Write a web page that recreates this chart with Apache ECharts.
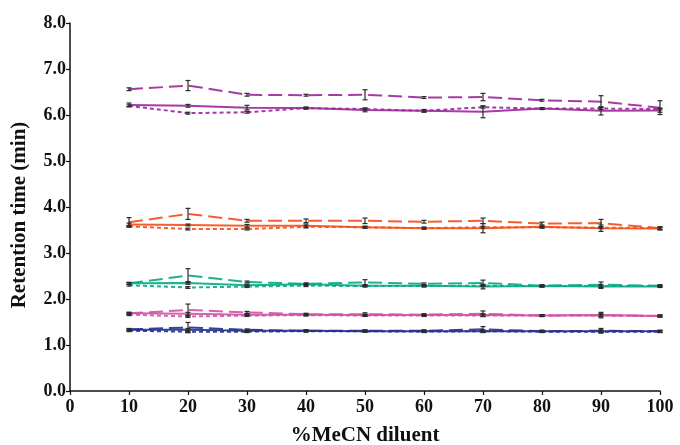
<!DOCTYPE html>
<html>
<head>
<meta charset="utf-8">
<script src="https://cdn.jsdelivr.net/npm/echarts@6/dist/echarts.min.js"></script>
<style>
  html, body { margin: 0; padding: 0; background: #fff; }
  #chart { width: 680px; height: 445px; }
</style>
</head>
<body>
<div id="chart"></div>
<script>
// %MeCN diluent
const xValues = [10, 20, 30, 40, 50, 60, 70, 80, 90, 100];

// retention times (min), three runs per analyte: dashed / solid / dotted
const purpleDash  = [6.56, 6.64, 6.44, 6.43, 6.44, 6.38, 6.39, 6.32, 6.29, 6.16];
const purpleSolid = [6.22, 6.20, 6.16, 6.15, 6.11, 6.09, 6.07, 6.14, 6.09, 6.10];
const purpleDot   = [6.20, 6.04, 6.06, 6.15, 6.13, 6.09, 6.17, 6.14, 6.14, 6.13];
const orangeDash  = [3.67, 3.85, 3.70, 3.70, 3.70, 3.68, 3.70, 3.64, 3.65, 3.54];
const orangeSolid = [3.62, 3.61, 3.59, 3.59, 3.56, 3.54, 3.54, 3.57, 3.54, 3.53];
const orangeDot   = [3.58, 3.52, 3.52, 3.57, 3.56, 3.54, 3.56, 3.56, 3.55, 3.54];
const greenDash   = [2.34, 2.51, 2.37, 2.33, 2.36, 2.33, 2.35, 2.29, 2.31, 2.29];
const greenSolid  = [2.34, 2.35, 2.30, 2.32, 2.29, 2.29, 2.27, 2.28, 2.27, 2.27];
const greenDot    = [2.30, 2.25, 2.27, 2.29, 2.28, 2.28, 2.29, 2.28, 2.28, 2.28];
const pinkDash    = [1.69, 1.76, 1.71, 1.67, 1.67, 1.66, 1.68, 1.64, 1.65, 1.63];
const pinkSolid   = [1.69, 1.68, 1.66, 1.66, 1.65, 1.65, 1.65, 1.64, 1.65, 1.63];
const pinkDot     = [1.66, 1.62, 1.64, 1.65, 1.64, 1.64, 1.64, 1.64, 1.64, 1.63];
const blueDash    = [1.34, 1.38, 1.33, 1.31, 1.31, 1.31, 1.34, 1.30, 1.31, 1.30];
const blueSolid   = [1.33, 1.33, 1.31, 1.31, 1.30, 1.30, 1.30, 1.30, 1.30, 1.30];
const blueDot     = [1.31, 1.29, 1.29, 1.30, 1.30, 1.29, 1.30, 1.29, 1.29, 1.29];

// standard deviations (error bars)
const purpleDashErr  = [0.03, 0.11, 0.03, 0.02, 0.11, 0.02, 0.08, 0.02, 0.13, 0.15];
const purpleSolidErr = [0.04, 0.03, 0.05, 0.02, 0.04, 0.03, 0.13, 0.02, 0.09, 0.04];
const purpleDotErr   = [0.02, 0.02, 0.02, 0.02, 0.02, 0.02, 0.02, 0.02, 0.02, 0.02];
const orangeDashErr  = [0.10, 0.12, 0.03, 0.04, 0.06, 0.03, 0.06, 0.03, 0.08, 0.03];
const orangeSolidErr = [0.03, 0.02, 0.03, 0.04, 0.02, 0.02, 0.10, 0.02, 0.07, 0.03];
const orangeDotErr   = [0.02, 0.02, 0.02, 0.02, 0.02, 0.02, 0.02, 0.02, 0.02, 0.02];
const greenDashErr   = [0.02, 0.15, 0.02, 0.02, 0.06, 0.02, 0.06, 0.02, 0.06, 0.02];
const greenSolidErr  = [0.02, 0.03, 0.02, 0.02, 0.02, 0.02, 0.05, 0.02, 0.04, 0.02];
const greenDotErr    = [0.02, 0.02, 0.02, 0.02, 0.02, 0.02, 0.02, 0.02, 0.02, 0.02];
const pinkDashErr    = [0.02, 0.13, 0.02, 0.02, 0.03, 0.02, 0.06, 0.02, 0.06, 0.02];
const pinkSolidErr   = [0.02, 0.03, 0.02, 0.02, 0.02, 0.02, 0.03, 0.02, 0.03, 0.02];
const pinkDotErr     = [0.02, 0.02, 0.02, 0.02, 0.02, 0.02, 0.02, 0.02, 0.02, 0.02];
const blueDashErr    = [0.02, 0.11, 0.02, 0.02, 0.02, 0.02, 0.06, 0.02, 0.05, 0.02];
const blueSolidErr   = [0.02, 0.03, 0.02, 0.02, 0.02, 0.02, 0.03, 0.02, 0.03, 0.02];
const blueDotErr     = [0.02, 0.02, 0.02, 0.02, 0.02, 0.02, 0.02, 0.02, 0.02, 0.02];

const colors = {
  purple: '#9E2A9C',
  orange: '#F4511E',
  green: '#0BAA84',
  pink: '#D055A6',
  blue: '#27338F',
};

const dashStyles = {
  dash: [14, 6],
  solid: 'solid',
  dot: [4, 3],
};

const runs = [
  ['purple', 'dash', purpleDash, purpleDashErr],
  ['purple', 'solid', purpleSolid, purpleSolidErr],
  ['purple', 'dot', purpleDot, purpleDotErr],
  ['orange', 'dash', orangeDash, orangeDashErr],
  ['orange', 'solid', orangeSolid, orangeSolidErr],
  ['orange', 'dot', orangeDot, orangeDotErr],
  ['green', 'dash', greenDash, greenDashErr],
  ['green', 'solid', greenSolid, greenSolidErr],
  ['green', 'dot', greenDot, greenDotErr],
  ['pink', 'dash', pinkDash, pinkDashErr],
  ['pink', 'solid', pinkSolid, pinkSolidErr],
  ['pink', 'dot', pinkDot, pinkDotErr],
  ['blue', 'dash', blueDash, blueDashErr],
  ['blue', 'solid', blueSolid, blueSolidErr],
  ['blue', 'dot', blueDot, blueDotErr],
];

const chart = echarts.init(document.getElementById('chart'));
const font = 'Liberation Serif';

const series = [];
const errData = [];
runs.forEach(([c, style, vals, errs]) => {
  series.push({
    name: c + '-' + style,
    type: 'line',
    showSymbol: false,
    silent: true,
    z: 2,
    lineStyle: { color: colors[c], width: 2, type: dashStyles[style], opacity: 0.92 },
    data: xValues.map((x, i) => [x, vals[i]]),
  });
  xValues.forEach((x, i) => {
    errData.push([x, vals[i] - errs[i], vals[i] + errs[i]]);
  });
});

series.push({
  type: 'custom',
  z: 3,
  silent: true,
  data: errData,
  renderItem: function (params, api) {
    const lo = api.coord([api.value(0), api.value(1)]);
    const hi = api.coord([api.value(0), api.value(2)]);
    const w = 2.5;
    const st = { stroke: '#2b2b2b', lineWidth: 1.2 };
    return {
      type: 'group',
      children: [
        { type: 'line', shape: { x1: lo[0], y1: lo[1], x2: hi[0], y2: hi[1] }, style: st },
        { type: 'line', shape: { x1: lo[0] - w, y1: lo[1], x2: lo[0] + w, y2: lo[1] }, style: st },
        { type: 'line', shape: { x1: hi[0] - w, y1: hi[1], x2: hi[0] + w, y2: hi[1] }, style: st },
      ],
    };
  },
});

const option = {
  animation: false,
  grid: { left: 70, right: 20, top: 23, bottom: 54, containLabel: false, outerBoundsMode: 'none' },
  xAxis: {
    type: 'value',
    min: 0,
    max: 100,
    interval: 10,
    name: '%MeCN diluent',
    nameLocation: 'middle',
    nameGap: 34,
    nameTextStyle: { fontFamily: font, fontWeight: 'bold', fontSize: 21, color: '#111' },
    axisLine: { lineStyle: { color: '#111', width: 1.5 } },
    axisTick: { length: 4, lineStyle: { color: '#111', width: 1.2 } },
    axisLabel: { fontFamily: font, fontWeight: 'bold', fontSize: 18, color: '#111', margin: 7 },
    splitLine: { show: false },
  },
  yAxis: {
    type: 'value',
    min: 0,
    max: 8,
    interval: 1,
    name: 'Retention time (min)',
    nameLocation: 'middle',
    nameGap: 40,
    nameTextStyle: {
      fontFamily: font, fontWeight: 'bold', fontSize: 21, color: '#111',
      padding: [0, 16, 0, 0],
    },
    axisLine: { show: true, lineStyle: { color: '#111', width: 1.5 } },
    axisTick: { show: true, length: 4, lineStyle: { color: '#111', width: 1.2 } },
    axisLabel: {
      fontFamily: font, fontWeight: 'bold', fontSize: 18, color: '#111', margin: 4,
      formatter: v => v.toFixed(1),
    },
    splitLine: { show: false },
  },
  series: series,
};

chart.setOption(option);
</script>
</body>
</html>
